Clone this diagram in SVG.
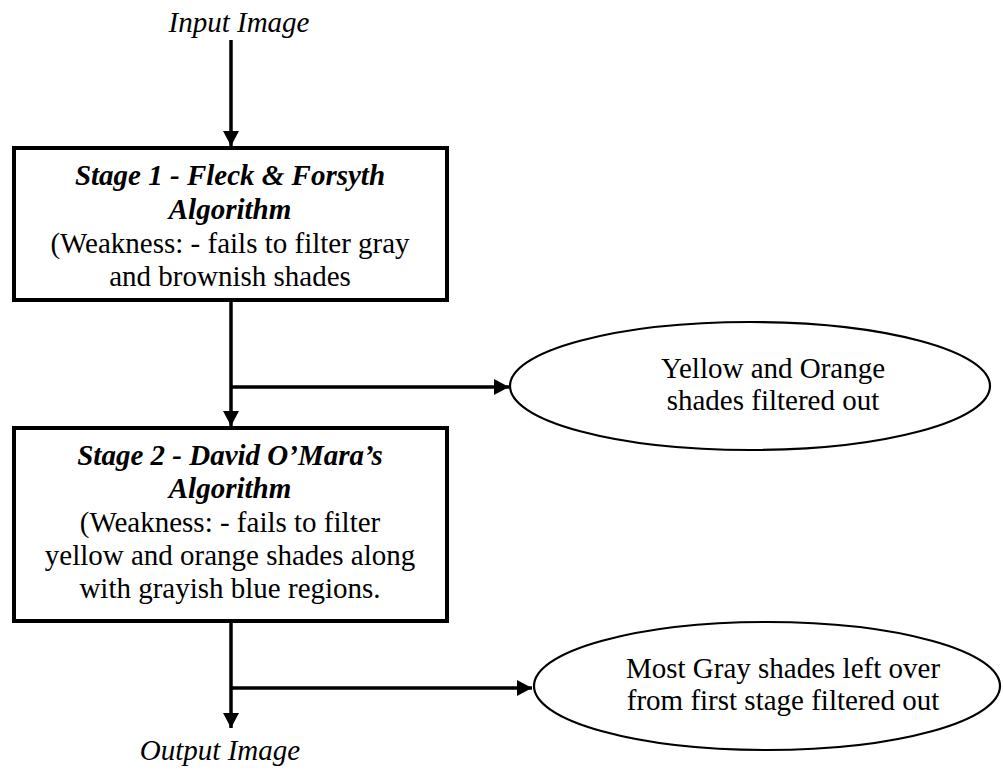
<svg xmlns="http://www.w3.org/2000/svg" width="1003" height="770" viewBox="0 0 1003 770">
<style>
text{font-family:"Liberation Serif","Times New Roman",serif;font-size:29px;fill:#000}
.c{text-anchor:middle}
.i{font-style:italic}
.b{font-weight:bold;font-style:italic}
.box{fill:#fff;stroke:#000;stroke-width:4}
.ell{fill:#fff;stroke:#000;stroke-width:2.2}
.ln{fill:none;stroke:#000;stroke-width:3.5}
</style>
<defs>
<marker id="ah" markerUnits="userSpaceOnUse" markerWidth="16" markerHeight="16" viewBox="0 0 16 16" refX="15" refY="8" orient="auto">
<path d="M0,0 L15,8 L0,16 Z" fill="#000"/>
</marker>
</defs>
<g id="connectors">
<line class="ln" x1="231" y1="40" x2="231" y2="146" marker-end="url(#ah)"/>
<line class="ln" x1="231" y1="300" x2="231" y2="426" marker-end="url(#ah)"/>
<line class="ln" x1="231" y1="387" x2="509" y2="387" marker-end="url(#ah)"/>
<line class="ln" x1="231" y1="621" x2="231" y2="728" marker-end="url(#ah)"/>
<line class="ln" x1="231" y1="688" x2="532" y2="688" marker-end="url(#ah)"/>
</g>
<g id="input">
<text class="c i" x="239" y="32">Input Image</text>
</g>
<g id="stage1">
<rect class="box" x="14" y="148" width="433" height="152"/>
<text class="c b" x="230" y="185">Stage 1 - Fleck &amp; Forsyth</text>
<text class="c b" x="230" y="219">Algorithm</text>
<text class="c" x="230" y="253">(Weakness: - fails to filter gray</text>
<text class="c" x="230" y="286">and brownish shades</text>
</g>
<g id="stage2">
<rect class="box" x="14" y="428" width="433" height="193"/>
<text class="c b" x="230" y="465">Stage 2 - David O’Mara’s</text>
<text class="c b" x="230" y="498">Algorithm</text>
<text class="c" x="230" y="532">(Weakness: - fails to filter</text>
<text class="c" x="230" y="565">yellow and orange shades along</text>
<text class="c" x="230" y="598">with grayish blue regions.</text>
</g>
<g id="out1">
<ellipse class="ell" cx="750" cy="386" rx="240" ry="64"/>
<text class="c" x="773" y="378">Yellow and Orange</text>
<text class="c" x="773" y="410">shades filtered out</text>
</g>
<g id="out2">
<ellipse class="ell" cx="767" cy="686" rx="233" ry="64"/>
<text class="c" x="783" y="678">Most Gray shades left over</text>
<text class="c" x="783" y="710">from first stage filtered out</text>
</g>
<g id="output">
<text class="c i" x="220" y="760">Output Image</text>
</g>
</svg>
